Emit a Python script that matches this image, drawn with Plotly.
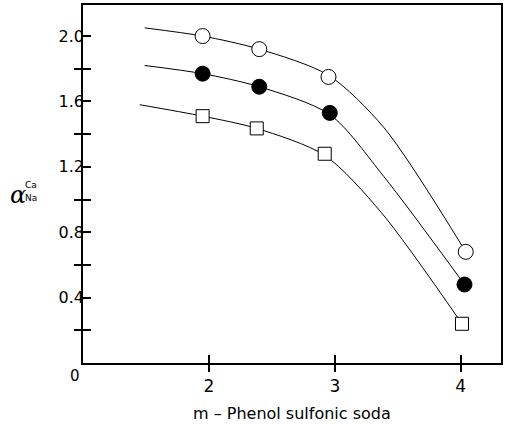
import plotly.graph_objects as go

# Measured points (x = m-Phenol sulfonic soda, y = alpha Ca/Na)
x_pts_open = [1.95, 2.40, 2.95, 4.04]
y_pts_open = [2.00, 1.92, 1.75, 0.68]
x_pts_fill = [1.95, 2.40, 2.96, 4.03]
y_pts_fill = [1.77, 1.69, 1.53, 0.48]
x_pts_sq = [1.95, 2.38, 2.92, 4.01]
y_pts_sq = [1.51, 1.435, 1.28, 0.24]

# Fitted curves
cx_open = [1.49, 1.95, 2.40, 2.95, 3.39, 4.04]
cy_open = [2.05, 2.00, 1.92, 1.76, 1.44, 0.68]
cx_fill = [1.49, 1.95, 2.40, 2.96, 3.39, 4.03]
cy_fill = [1.82, 1.77, 1.69, 1.52, 1.14, 0.48]
cx_sq = [1.45, 1.95, 2.38, 2.92, 3.37, 4.01]
cy_sq = [1.58, 1.51, 1.435, 1.27, 0.92, 0.24]

x_ticks = [2, 3, 4]
y_major = [0.4, 0.8, 1.2, 1.6, 2.0]
y_minor = [0.2, 0.6, 1.0, 1.4, 1.8]
x_range = [1.0, 4.32]
y_range = [0.0, 2.19]

FONT = "DejaVu Sans"

fig = go.Figure()
for cx, cy in [(cx_open, cy_open), (cx_fill, cy_fill), (cx_sq, cy_sq)]:
    fig.add_trace(go.Scatter(x=cx, y=cy, mode="lines",
                             line=dict(color="black", width=1, shape="spline", smoothing=0.8),
                             showlegend=False, hoverinfo="skip"))

fig.add_trace(go.Scatter(x=x_pts_open, y=y_pts_open, mode="markers",
                         marker=dict(symbol="circle", size=15, color="white",
                                     line=dict(color="black", width=1)), showlegend=False))
fig.add_trace(go.Scatter(x=x_pts_fill, y=y_pts_fill, mode="markers",
                         marker=dict(symbol="circle", size=15, color="black",
                                     line=dict(color="black", width=1)), showlegend=False))
fig.add_trace(go.Scatter(x=x_pts_sq, y=y_pts_sq, mode="markers",
                         marker=dict(symbol="square", size=13, color="white",
                                     line=dict(color="black", width=1)), showlegend=False))
# carrier for overlay axes (no marks)
fig.add_trace(go.Scatter(x=[], y=[], xaxis="x2", yaxis="y2", showlegend=False))

all_y = sorted(y_major + y_minor)
y_text = [("%.1f" % v) if v in y_major else "" for v in all_y]

fig.update_layout(
    width=506, height=424,
    margin=dict(l=83, r=3, t=5, b=61),
    paper_bgcolor="white", plot_bgcolor="white",
    font=dict(family=FONT, color="black"),
    xaxis=dict(range=x_range, tickvals=x_ticks, ticks="outside", ticklen=7, tickwidth=1.5,
               tickcolor="black", showline=True, linecolor="black", linewidth=1.5, mirror=True,
               showgrid=False, zeroline=False, tickfont=dict(family=FONT, size=17)),
    xaxis2=dict(range=x_range, overlaying="x", anchor="y", side="bottom", tickvals=x_ticks,
                ticks="inside", ticklen=8, tickwidth=1.5, tickcolor="black",
                showticklabels=False, showline=False, showgrid=False, zeroline=False),
    yaxis=dict(range=y_range, tickvals=all_y, ticktext=y_text, ticks="inside", ticklen=8,
               tickwidth=1.5, tickcolor="black", showline=True, linecolor="black",
               linewidth=1.5, mirror=True, showgrid=False, zeroline=False,
               ticklabelstandoff=-6,
               tickfont=dict(family=FONT, size=16)),
    yaxis2=dict(range=y_range, overlaying="y", anchor="x", side="left", tickvals=y_minor,
                ticks="outside", ticklen=8, tickwidth=1.5, tickcolor="black",
                showticklabels=False, showline=False, showgrid=False, zeroline=False),
)

fig.add_annotation(text="m \u2013 Phenol sulfonic soda", xref="paper", yref="paper",
                   x=0.5, y=-0.142, showarrow=False, xanchor="center", yanchor="middle",
                   font=dict(family=FONT, size=16))
fig.add_annotation(text="0", xref="paper", yref="paper", x=-0.02, y=-0.037,
                   showarrow=False, xanchor="center", yanchor="middle",
                   font=dict(family=FONT, size=15))
fig.add_annotation(text="\u03b1", xref="paper", yref="paper", x=-0.155, y=0.47,
                   showarrow=False, xanchor="center", yanchor="middle",
                   font=dict(family="DejaVu Serif", size=24, style="italic"))
fig.add_annotation(text="Ca", xref="paper", yref="paper", x=-0.124, y=0.497,
                   showarrow=False, xanchor="center", yanchor="middle",
                   font=dict(family=FONT, size=9))
fig.add_annotation(text="Na", xref="paper", yref="paper", x=-0.124, y=0.461,
                   showarrow=False, xanchor="center", yanchor="middle",
                   font=dict(family=FONT, size=9))

fig.write_html("out.html")
